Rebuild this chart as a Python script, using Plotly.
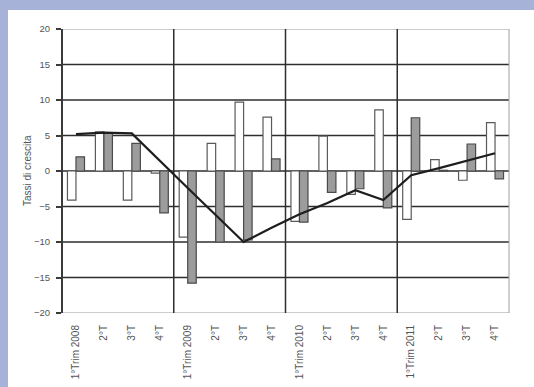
import plotly.graph_objects as go

# Quarterly growth rates, 2008-2011
quarters = ["1°Trim 2008", "2°T", "3°T", "4°T",
            "1°Trim 2009", "2°T", "3°T", "4°T",
            "1°Trim 2010", "2°T", "3°T", "4°T",
            "1°Trim 2011", "2°T", "3°T", "4°T"]
series_a = [-4.1, 5.5, -4.1, -0.3, -9.3, 3.9, 9.7, 7.6,
            -7.1, 4.9, -3.3, 8.6, -6.8, 1.6, -1.3, 6.8]
series_b = [2.0, 5.4, 3.9, -5.9, -15.8, -10.0, -9.7, 1.7,
            -7.2, -3.0, -2.5, -5.2, 7.5, 0.1, 3.8, -1.1]
trend = [5.2, 5.4, 5.3, 1.4, -2.4, -6.2, -10.0, -8.0,
         -6.1, -4.5, -2.7, -4.1, -0.6, 0.4, 1.4, 2.5]
y_ticks = [20, 15, 10, 5, 0, -5, -10, -15, -20]
per_year = 4

W, H = 534, 387
L, R, T, B = 62, 25, 29, 74
pw, ph = W - L - R, H - T - B

xs = list(range(len(quarters)))
font = "Arial, Liberation Sans, sans-serif"
text_col = "#555555"
frame_col = "#a6b2d8"

fig = go.Figure()
fig.add_trace(go.Bar(x=xs, y=series_a, marker=dict(color="#ffffff", line=dict(color="#5a5a5a", width=1.2)),
                     showlegend=False))
fig.add_trace(go.Bar(x=xs, y=series_b, marker=dict(color="#9c9c9c", line=dict(color="#4a4a4a", width=1.2)),
                     showlegend=False))
fig.add_trace(go.Scatter(x=xs, y=trend, mode="lines", line=dict(color="#1e1e1e", width=2.2),
                         showlegend=False))

shapes = []
# horizontal grid lines
ymin, ymax = min(y_ticks), max(y_ticks)
for v in y_ticks:
    edge = v in (ymin, ymax)
    shapes.append(dict(type="line", xref="paper", yref="y", x0=0, x1=1, y0=v, y1=v,
                       line=dict(color="#9a9a9a" if edge else "#2e2e2e", width=1 if edge else 1.6),
                       layer="below"))
# year separators
for k in range(per_year, len(quarters), per_year):
    xv = k - 0.5
    shapes.append(dict(type="line", xref="x", yref="paper", x0=xv, x1=xv, y0=0, y1=1,
                       line=dict(color="#2e2e2e", width=1.5), layer="below"))
# right border and left axis
shapes.append(dict(type="line", xref="paper", yref="paper", x0=1, x1=1, y0=0, y1=1,
                   line=dict(color="#a0a0a0", width=1), layer="below"))
shapes.append(dict(type="line", xref="paper", yref="paper", x0=0, x1=0, y0=0, y1=1,
                   line=dict(color="#3a3a3a", width=2), layer="above"))

# blue frame strips at top and left of the page
def px_x(p):
    return (p - L) / pw

def px_y(p):
    return (H - B - p) / ph

shapes.append(dict(type="rect", xref="paper", yref="paper", x0=px_x(-2), x1=px_x(8),
                   y0=px_y(H + 2), y1=px_y(-2), fillcolor=frame_col, line=dict(width=0), layer="above"))
shapes.append(dict(type="rect", xref="paper", yref="paper", x0=px_x(-2), x1=px_x(W + 2),
                   y0=px_y(10), y1=px_y(-2), fillcolor=frame_col, line=dict(width=0), layer="above"))

fig.update_layout(
    width=W, height=H,
    margin=dict(l=L, r=R, t=T, b=B),
    paper_bgcolor="#ffffff", plot_bgcolor="#ffffff",
    barmode="group", bargap=0.39, bargroupgap=0.0,
    shapes=shapes,
    annotations=[dict(text="Tassi di crescita", xref="paper", yref="paper",
                      x=px_x(27), y=0.5, xanchor="center", yanchor="middle",
                      textangle=-90, showarrow=False,
                      font=dict(family=font, size=10, color=text_col))],
    xaxis=dict(range=[-0.5, len(quarters) - 0.5], tickvals=xs, ticktext=quarters,
               tickangle=-90, showgrid=False, zeroline=False, showline=False, ticks="",
               ticklabelstandoff=9, automargin=False,
               tickfont=dict(family=font, size=10, color=text_col)),
    yaxis=dict(range=[ymin, ymax], tickvals=y_ticks, showgrid=False, zeroline=False,
               showline=False, ticks="outside", ticklen=5, tickcolor="#3a3a3a", tickwidth=1.5,
               ticklabelstandoff=4, automargin=False,
               tickfont=dict(family=font, size=9.5, color=text_col)),
)

fig.write_html("out.html")
